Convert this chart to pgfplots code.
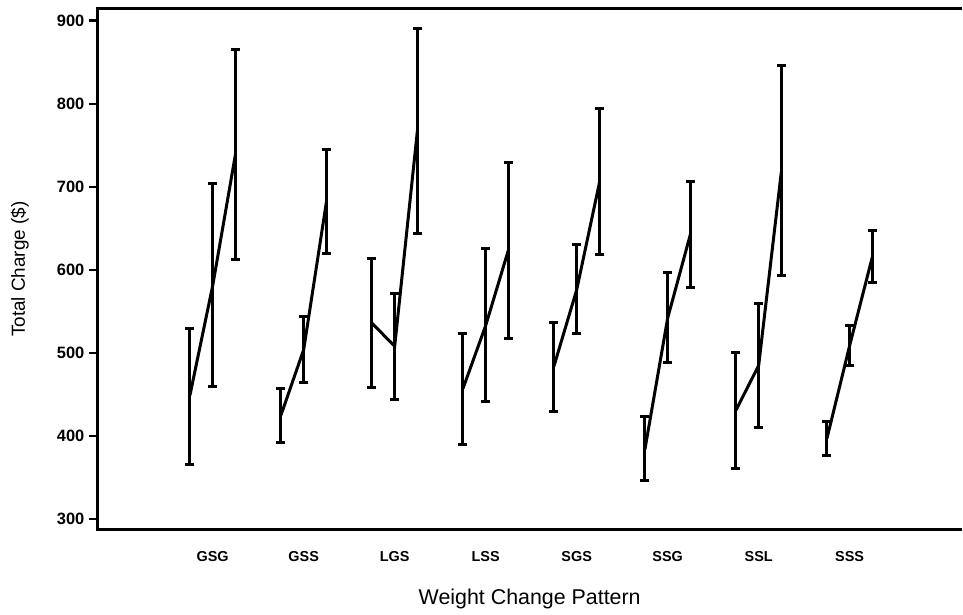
\documentclass[border=0pt]{standalone}
\usepackage{pgfplots}
\pgfplotsset{compat=1.18}
\usepackage{pgfplotstable}
\usepackage{fontspec}
\setmainfont{Liberation Sans}

% x mean hi lo
\pgfplotstableread{
x mean hi lo
0.75 449 530 366
1.00 581 704 460
1.25 739 865 612
1.75 425 457 392
2.00 504 544 464
2.25 682 745 620
2.75 536 614 458
3.00 508 572 444
3.25 768 891 644
3.75 457 524 390
4.00 533 626 441
4.25 624 729 518
4.75 484 537 430
5.00 576 630 523
5.25 705 794 618
5.75 384 423 346
6.00 542 597 488
6.25 643 706 579
6.75 431 500 361
7.00 485 560 410
7.25 719 846 593
7.75 397 417 377
8.00 509 533 485
8.25 616 647 585
}\data
\pgfplotstablecreatecol[create col/expr={\thisrow{hi}-\thisrow{mean}}]{ep}{\data}
\pgfplotstablecreatecol[create col/expr={\thisrow{mean}-\thisrow{lo}}]{em}{\data}

\begin{document}
\begin{tikzpicture}
\begin{axis}[
  scale only axis,
  width=865bp, height=522.4bp,
  xmin=-0.262, xmax=9.229,
  ymin=287, ymax=915,
  axis line style={draw=none},
  clip=false,
  xtick={1,2,3,4,5,6,7,8},
  xticklabels={GSG,GSS,LGS,LSS,SGS,SSG,SSL,SSS},
  xtick style={draw=none},
  xtick pos=bottom,
  ytick={300,400,500,600,700,800,900},
  ytick pos=left,
  tick align=outside,
  major tick length=9bp,
  ytick style={line width=2.5bp, black},
  /pgf/number format/assume math mode=true,
  yticklabel style={font=\fontsize{16.5}{18}\selectfont\bfseries, xshift=-1bp},
  xticklabel style={font=\fontsize{14.5}{17}\selectfont\bfseries, yshift=-9bp},
  xlabel={Weight Change Pattern},
  ylabel={Total Charge (\$)},
  xlabel style={font=\fontsize{21.5}{24}\selectfont, at={(axis description cs:0.5,-0.1327)}, anchor=center},
  ylabel style={font=\fontsize{19}{22}\selectfont, at={(axis description cs:-0.0902,0.5)}, anchor=center},
]
\pgfplotsforeachungrouped \g in {0,3,6,9,12,15,18,21}{
  \pgfmathtruncatemacro{\gend}{\g+2}
  \edef\tmp{\noexpand\addplot[black, line width=3bp, no markers,
    error bars/.cd, y dir=both, y explicit,
    error bar style={line width=3bp, black},
    error mark options={rotate=90, mark size=4.5bp, line width=3bp, black}]
    table[x=x, y=mean, y error plus=ep, y error minus=em,
      skip coords between index={0}{\g},
      skip coords between index={\the\numexpr\gend+1\relax}{24}] {\noexpand\data};}
  \tmp
}
\draw[line width=3bp, black] (rel axis cs:0,1) -- (rel axis cs:1,1);
\draw[line width=3bp, black] (rel axis cs:0,0) -- (rel axis cs:1,0);
\draw[line width=3bp, black, line cap=rect] (rel axis cs:0,0) -- (rel axis cs:0,1);
\end{axis}
\useasboundingbox (current axis.south west) ++(-98bp,-84.3bp) rectangle ([yshift=8.3bp]current axis.north east);
\end{tikzpicture}
\end{document}
